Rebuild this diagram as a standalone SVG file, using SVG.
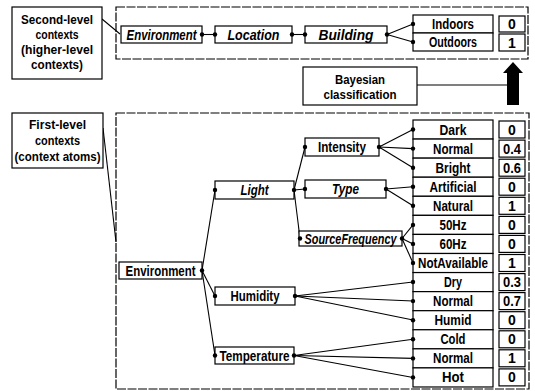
<svg xmlns="http://www.w3.org/2000/svg" width="535" height="391" viewBox="0 0 535 391">
<defs>
<style>
text{font-family:"Liberation Sans",Arial,sans-serif;font-weight:bold;font-size:14px;fill:#000;text-anchor:middle;dominant-baseline:central}
.it{font-style:italic}
.lbl{font-size:13px}
.box{fill:#fff;stroke:#000;stroke-width:1.2}
.frame{fill:none;stroke:#000;stroke-width:1.2;stroke-dasharray:9 1.5}
.c{fill:none;stroke:#000;stroke-width:1.1}
.d{fill:#000}
</style>
</defs>
<rect width="535" height="391" fill="#fff"/>
<g id="frames">
<rect class="frame" x="116" y="7" width="412" height="52"/>
<rect class="frame" x="116" y="113" width="413" height="276"/>
</g>
<g id="connectors">
<line class="c" x1="102" y1="19" x2="120" y2="34"/>
<line class="c" x1="103" y1="128" x2="116" y2="242"/>
<line class="c" x1="202" y1="34.5" x2="215" y2="34.5"/>
<line class="c" x1="292" y1="34.5" x2="305" y2="34.5"/>
<line class="c" x1="387" y1="34.5" x2="413" y2="24"/>
<line class="c" x1="387" y1="34.5" x2="413" y2="42"/>
<line class="c" x1="417" y1="85" x2="507" y2="85"/>
<line class="c" x1="202" y1="270.5" x2="215" y2="190"/>
<line class="c" x1="202" y1="270.5" x2="215" y2="296"/>
<line class="c" x1="202" y1="270.5" x2="215" y2="355.5"/>
<line class="c" x1="294" y1="190" x2="305" y2="147"/>
<line class="c" x1="294" y1="190" x2="305" y2="189"/>
<line class="c" x1="294" y1="190" x2="300" y2="238.5"/>
<line class="c" x1="379" y1="147" x2="413" y2="129.5"/>
<line class="c" x1="379" y1="147" x2="413" y2="148.6"/>
<line class="c" x1="379" y1="147" x2="413" y2="167.7"/>
<line class="c" x1="386" y1="189" x2="413" y2="186.7"/>
<line class="c" x1="386" y1="189" x2="413" y2="205.8"/>
<line class="c" x1="402" y1="238.5" x2="413" y2="224.9"/>
<line class="c" x1="402" y1="238.5" x2="413" y2="243.9"/>
<line class="c" x1="402" y1="238.5" x2="413" y2="263"/>
<line class="c" x1="295" y1="296" x2="413" y2="282"/>
<line class="c" x1="295" y1="296" x2="413" y2="301"/>
<line class="c" x1="295" y1="296" x2="413" y2="320"/>
<line class="c" x1="294" y1="355.5" x2="413" y2="339.3"/>
<line class="c" x1="294" y1="355.5" x2="413" y2="358.4"/>
<line class="c" x1="294" y1="355.5" x2="413" y2="377.5"/>
<path id="bayes-arrow" d="M507 105 L507 73 L503 73 L513 62 L523 73 L519 73 L519 105 Z" fill="#000"/>
</g>
<g id="label-second">
<rect class="box" x="12" y="7" width="90" height="72"/>
<text class="lbl" x="57" y="19" textLength="72" lengthAdjust="spacingAndGlyphs">Second-level</text>
<text class="lbl" x="57" y="34" textLength="43" lengthAdjust="spacingAndGlyphs">contexts</text>
<text class="lbl" x="57" y="49" textLength="72" lengthAdjust="spacingAndGlyphs">(higher-level</text>
<text class="lbl" x="57" y="64" textLength="52" lengthAdjust="spacingAndGlyphs">contexts)</text>
</g>
<g id="label-first">
<rect class="box" x="12" y="113" width="91" height="55"/>
<text class="lbl" x="57.5" y="124" textLength="57" lengthAdjust="spacingAndGlyphs">First-level</text>
<text class="lbl" x="57.5" y="140" textLength="45" lengthAdjust="spacingAndGlyphs">contexts</text>
<text class="lbl" x="57.5" y="156" textLength="86" lengthAdjust="spacingAndGlyphs">(context atoms)</text>
</g>
<g id="bayesian">
<rect class="box" x="303" y="67" width="114" height="38"/>
<text class="lbl" x="360" y="79" textLength="50" lengthAdjust="spacingAndGlyphs">Bayesian</text>
<text class="lbl" x="360" y="94" textLength="73" lengthAdjust="spacingAndGlyphs">classification</text>
</g>
<g id="env2"><rect class="box" x="121" y="26" width="81" height="17"/><text class="it" x="161.5" y="34.5" textLength="70" lengthAdjust="spacingAndGlyphs">Environment</text></g>
<g id="location"><rect class="box" x="215" y="26" width="77" height="17"/><text class="it" x="253.5" y="34.5" textLength="52" lengthAdjust="spacingAndGlyphs">Location</text></g>
<g id="building"><rect class="box" x="305" y="26" width="82" height="17"/><text class="it" x="346" y="34.5" textLength="55" lengthAdjust="spacingAndGlyphs">Building</text></g>
<g id="indoors"><rect class="box" x="413" y="15" width="80" height="18"/><text x="453" y="24" textLength="42" lengthAdjust="spacingAndGlyphs">Indoors</text><rect class="box" x="499" y="16" width="26" height="16"/><text x="512" y="24">0</text></g>
<g id="outdoors"><rect class="box" x="413" y="33" width="80" height="18"/><text x="453" y="42" textLength="48" lengthAdjust="spacingAndGlyphs">Outdoors</text><rect class="box" x="499" y="34" width="26" height="17"/><text x="512" y="42.5">1</text></g>
<g id="env1"><rect class="box" x="119" y="262" width="83" height="17"/><text x="160.5" y="270.5" textLength="70" lengthAdjust="spacingAndGlyphs">Environment</text></g>
<g id="light"><rect class="box" x="215" y="181" width="79" height="18"/><text class="it" x="254.5" y="190" textLength="28" lengthAdjust="spacingAndGlyphs">Light</text></g>
<g id="humidity"><rect class="box" x="215" y="287" width="80" height="18"/><text x="255" y="296" textLength="49" lengthAdjust="spacingAndGlyphs">Humidity</text></g>
<g id="temperature"><rect class="box" x="215" y="347" width="79" height="17"/><text x="254.5" y="355.5" textLength="70" lengthAdjust="spacingAndGlyphs">Temperature</text></g>
<g id="intensity"><rect class="box" x="305" y="138" width="74" height="18"/><text x="342" y="147" textLength="48" lengthAdjust="spacingAndGlyphs">Intensity</text></g>
<g id="type"><rect class="box" x="305" y="180" width="81" height="18"/><text class="it" x="345.5" y="189" textLength="27" lengthAdjust="spacingAndGlyphs">Type</text></g>
<g id="sourcefrequency"><rect class="box" x="299" y="231" width="103" height="15"/><text class="it" x="350.5" y="238.5" textLength="92" lengthAdjust="spacingAndGlyphs">SourceFrequency</text></g>
<g id="values">
<rect class="box" x="413" y="120" width="80" height="19.07"/><text x="453" y="129.5" textLength="27" lengthAdjust="spacingAndGlyphs">Dark</text>
<rect class="box" x="413" y="139.07" width="80" height="19.07"/><text x="453" y="148.6" textLength="40" lengthAdjust="spacingAndGlyphs">Normal</text>
<rect class="box" x="413" y="158.14" width="80" height="19.07"/><text x="453" y="167.7" textLength="35" lengthAdjust="spacingAndGlyphs">Bright</text>
<rect class="box" x="413" y="177.21" width="80" height="19.07"/><text x="453" y="186.7" textLength="47" lengthAdjust="spacingAndGlyphs">Artificial</text>
<rect class="box" x="413" y="196.28" width="80" height="19.07"/><text x="453" y="205.8" textLength="40" lengthAdjust="spacingAndGlyphs">Natural</text>
<rect class="box" x="413" y="215.35" width="80" height="19.07"/><text x="453" y="224.9" textLength="27" lengthAdjust="spacingAndGlyphs">50Hz</text>
<rect class="box" x="413" y="234.42" width="80" height="19.07"/><text x="453" y="243.9" textLength="27" lengthAdjust="spacingAndGlyphs">60Hz</text>
<rect class="box" x="413" y="253.49" width="80" height="19.07"/><text x="453" y="263" textLength="70" lengthAdjust="spacingAndGlyphs">NotAvailable</text>
<rect class="box" x="413" y="272.56" width="80" height="19.07"/><text x="453" y="282" textLength="18" lengthAdjust="spacingAndGlyphs">Dry</text>
<rect class="box" x="413" y="291.63" width="80" height="19.07"/><text x="453" y="301.1" textLength="40" lengthAdjust="spacingAndGlyphs">Normal</text>
<rect class="box" x="413" y="310.7" width="80" height="19.07"/><text x="453" y="320.2" textLength="37" lengthAdjust="spacingAndGlyphs">Humid</text>
<rect class="box" x="413" y="329.77" width="80" height="19.07"/><text x="453" y="339.3" textLength="25" lengthAdjust="spacingAndGlyphs">Cold</text>
<rect class="box" x="413" y="348.84" width="80" height="19.07"/><text x="453" y="358.4" textLength="40" lengthAdjust="spacingAndGlyphs">Normal</text>
<rect class="box" x="413" y="367.91" width="80" height="19.07"/><text x="453" y="377.4" textLength="22" lengthAdjust="spacingAndGlyphs">Hot</text>
</g>
<g id="probabilities">
<rect class="box" x="499" y="121" width="26" height="17"/><text x="512" y="129.5">0</text>
<rect class="box" x="499" y="140.1" width="26" height="17"/><text x="512" y="148.6" textLength="18" lengthAdjust="spacingAndGlyphs">0.4</text>
<rect class="box" x="499" y="159.2" width="26" height="17"/><text x="512" y="167.7" textLength="18" lengthAdjust="spacingAndGlyphs">0.6</text>
<rect class="box" x="499" y="178.2" width="26" height="17"/><text x="512" y="186.7">0</text>
<rect class="box" x="499" y="197.3" width="26" height="17"/><text x="512" y="205.8">1</text>
<rect class="box" x="499" y="216.4" width="26" height="17"/><text x="512" y="224.9">0</text>
<rect class="box" x="499" y="235.4" width="26" height="17"/><text x="512" y="243.9">0</text>
<rect class="box" x="499" y="254.5" width="26" height="17"/><text x="512" y="263">1</text>
<rect class="box" x="499" y="273.6" width="26" height="17"/><text x="512" y="282" textLength="18" lengthAdjust="spacingAndGlyphs">0.3</text>
<rect class="box" x="499" y="292.6" width="26" height="17"/><text x="512" y="301.1" textLength="18" lengthAdjust="spacingAndGlyphs">0.7</text>
<rect class="box" x="499" y="311.7" width="26" height="17"/><text x="512" y="320.2">0</text>
<rect class="box" x="499" y="330.8" width="26" height="17"/><text x="512" y="339.3">0</text>
<rect class="box" x="499" y="349.8" width="26" height="17"/><text x="512" y="358.4">1</text>
<rect class="box" x="499" y="368.9" width="26" height="17"/><text x="512" y="377.4">0</text>
</g>
<g id="dots">
<circle class="d" cx="202" cy="34.5" r="2.2"/><circle class="d" cx="215" cy="34.5" r="2.2"/>
<circle class="d" cx="292" cy="34.5" r="2.2"/><circle class="d" cx="305" cy="34.5" r="2.2"/>
<circle class="d" cx="387" cy="34.5" r="2.2"/><circle class="d" cx="413" cy="24" r="2.2"/><circle class="d" cx="413" cy="42" r="2.2"/>
<circle class="d" cx="202" cy="270.5" r="2.2"/><circle class="d" cx="215" cy="190" r="2.2"/><circle class="d" cx="215" cy="296" r="2.2"/><circle class="d" cx="215" cy="355.5" r="2.2"/>
<circle class="d" cx="294" cy="190" r="2.2"/><circle class="d" cx="305" cy="147" r="2.2"/><circle class="d" cx="305" cy="189" r="2.2"/><circle class="d" cx="300" cy="238.5" r="2.2"/>
<circle class="d" cx="379" cy="147" r="2.2"/><circle class="d" cx="386" cy="189" r="2.2"/><circle class="d" cx="402" cy="238.5" r="2.2"/>
<circle class="d" cx="295" cy="296" r="2.2"/><circle class="d" cx="294" cy="355.5" r="2.2"/>
<circle class="d" cx="413" cy="129.5" r="2.2"/><circle class="d" cx="413" cy="148.6" r="2.2"/><circle class="d" cx="413" cy="167.7" r="2.2"/>
<circle class="d" cx="413" cy="186.7" r="2.2"/><circle class="d" cx="413" cy="205.8" r="2.2"/><circle class="d" cx="413" cy="224.9" r="2.2"/>
<circle class="d" cx="413" cy="243.9" r="2.2"/><circle class="d" cx="413" cy="263" r="2.2"/><circle class="d" cx="413" cy="282" r="2.2"/>
<circle class="d" cx="413" cy="301.1" r="2.2"/><circle class="d" cx="413" cy="320.2" r="2.2"/><circle class="d" cx="413" cy="339.3" r="2.2"/>
<circle class="d" cx="413" cy="358.4" r="2.2"/><circle class="d" cx="413" cy="377.4" r="2.2"/>
</g>
</svg>
